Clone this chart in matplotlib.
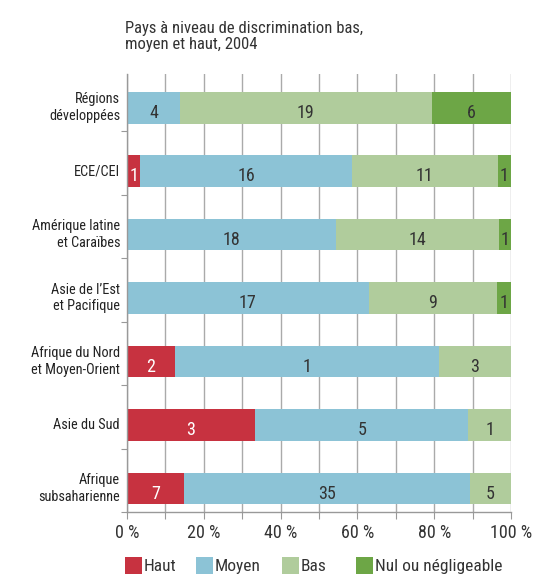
import matplotlib.pyplot as plt
import numpy as np
from matplotlib import font_manager
from matplotlib.patches import Rectangle

TITLE = "Pays à niveau de discrimination bas,\nmoyen et haut, 2004"
REGIONS = [
    "Régions\ndéveloppées",
    "ECE/CEI",
    "Amérique latine\net Caraïbes",
    "Asie de l\u2019Est\net Pacifique",
    "Afrique du Nord\net Moyen-Orient",
    "Asie du Sud",
    "Afrique\nsubsaharienne",
]
HAUT = [0, 1, 0, 0, 2, 3, 7]
MOYEN = [4, 16, 18, 17, 11, 5, 35]
BAS = [19, 11, 14, 9, 3, 1, 5]
NUL = [6, 1, 1, 1, 0, 0, 0]
# labels as printed in the source (the 11 of North Africa shows as "1")
HAUT_LABELS = ["", "1", "", "", "2", "3", "7"]
MOYEN_LABELS = ["4", "16", "18", "17", "1", "5", "35"]
BAS_LABELS = ["19", "11", "14", "9", "3", "1", "5"]
NUL_LABELS = ["6", "1", "1", "1", "", "", ""]
SERIES = ["Haut", "Moyen", "Bas", "Nul ou négligeable"]
COLORS = ["#c73240", "#8cc3d6", "#b0cc9c", "#6da646"]
TEXT_COLORS = ["white", "#333333", "#333333", "#333333"]

W, H = 536, 575

names = {f.name for f in font_manager.fontManager.ttflist}
font = next((n for n in ["Roboto Condensed", "Archivo Narrow", "PT Sans Narrow"] if n in names),
            "DejaVu Sans")
plt.rcParams["font.family"] = [font, "DejaVu Sans"]
k = 1.0 if font != "DejaVu Sans" else 0.8  # DejaVu is much wider

fig = plt.figure(figsize=(W / 100, H / 100), dpi=100)
ax = fig.add_axes([127 / W, 1 - 512 / H, 384 / W, 438 / H])

data = np.array([HAUT, MOYEN, BAS, NUL], dtype=float)
labels = [HAUT_LABELS, MOYEN_LABELS, BAS_LABELS, NUL_LABELS]
pct = data / data.sum(axis=0) * 100.0
y = np.arange(len(REGIONS))

ax.set_axisbelow(True)
left = np.zeros(len(REGIONS))
for si in range(4):
    ax.barh(y, pct[si], left=left, height=0.5, color=COLORS[si], edgecolor="none", zorder=2)
    for i in range(len(REGIONS)):
        if labels[si][i]:
            ax.text(left[i] + pct[si][i] / 2, y[i] + 0.16, labels[si][i],
                    ha="center", va="baseline", fontsize=13 * k,
                    color=TEXT_COLORS[si], zorder=3)
    left += pct[si]

ax.set_xlim(0, 100)
ax.set_ylim(6.37, -0.53)
ax.set_xticks(np.arange(0, 101, 10))
ax.set_xticklabels([f"{v} %" if v % 20 == 0 else "" for v in range(0, 101, 10)],
                   fontsize=13 * k, color="#333333")
ax.xaxis.grid(True, color="#aaaaaa", linewidth=1.0)
ax.tick_params(axis="x", length=5, color="#999999", pad=4)

ax.set_yticks(np.arange(len(REGIONS)) + 0.37)
ax.set_yticklabels([])
ax.tick_params(axis="y", length=4, color="#999999")
for i, name in enumerate(REGIONS):
    ax.text(-1.8, y[i], name, ha="right", va="center", fontsize=10.3 * k,
            color="#222222", linespacing=1.25)

for s in ["top", "right"]:
    ax.spines[s].set_visible(False)
for s in ["left", "bottom"]:
    ax.spines[s].set_color("#999999")
    ax.spines[s].set_linewidth(1.0)

fig.text(125 / W, 1 - 49 / H, TITLE, ha="left", va="baseline", fontsize=12 * k,
         color="#333333", linespacing=1.12)

# legend, laid out like the source
leg_x = [125, 196, 282, 356]
for x0, name, c in zip(leg_x, SERIES, COLORS):
    fig.patches.append(Rectangle((x0 / W, 1 - 574 / H), 17 / W, 17 / H,
                                 transform=fig.transFigure, facecolor=c, edgecolor="none"))
    fig.text((x0 + 19) / W, 1 - 571 / H, name, ha="left", va="baseline",
             fontsize=12.5 * k, color="#333333")

fig.savefig("out.png", dpi=100)
